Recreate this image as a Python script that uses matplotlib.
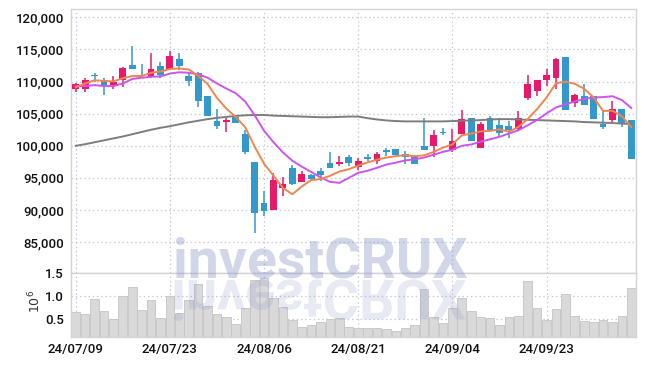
import numpy as np
import pandas as pd
import matplotlib
matplotlib.use("Agg")
import matplotlib.pyplot as plt
from matplotlib.textpath import TextPath
from matplotlib.patches import PathPatch
from matplotlib.font_manager import FontProperties
from matplotlib.transforms import Affine2D
from matplotlib.ticker import FuncFormatter, FixedLocator

dates = ["24/07/09", "24/07/10", "24/07/11", "24/07/12", "24/07/15", "24/07/16", "24/07/17", "24/07/18", "24/07/19", "24/07/22",
         "24/07/23", "24/07/24", "24/07/25", "24/07/26", "24/07/29", "24/07/30", "24/07/31", "24/08/01", "24/08/02", "24/08/05",
         "24/08/06", "24/08/07", "24/08/08", "24/08/09", "24/08/12", "24/08/13", "24/08/14", "24/08/16", "24/08/19", "24/08/20",
         "24/08/21", "24/08/22", "24/08/23", "24/08/26", "24/08/27", "24/08/28", "24/08/29", "24/08/30", "24/09/02", "24/09/03",
         "24/09/04", "24/09/05", "24/09/06", "24/09/09", "24/09/10", "24/09/11", "24/09/12", "24/09/13", "24/09/19", "24/09/20",
         "24/09/23", "24/09/24", "24/09/25", "24/09/26", "24/09/27", "24/09/30", "24/10/02", "24/10/04", "24/10/07", "24/10/08"]

opens = [108900, 108900, 111100, 110300, 109500, 110300, 112600, 111100, 110700, 112400,
         111900, 113500, 110900, 111300, 107700, 103900, 103700, 104500, 101800, 97500,
         91100, 90000, 93500, 96600, 94300, 95500, 96100, 97400, 97200, 98300,
         96700, 98300, 97700, 99400, 99500, 98800, 98400, 100000, 99900, 102200,
         99400, 101800, 104400, 99700, 104300, 103300, 103100, 102600, 107400, 108500,
         110300, 110500, 113800, 106600, 107800, 107700, 103400, 104000, 105800, 104000]
highs = [109800, 110500, 111300, 110500, 110800, 112200, 115500, 112700, 114400, 113000,
         114800, 114500, 111400, 111500, 107800, 105700, 104400, 104600, 102400, 97500,
         92900, 95700, 95200, 97000, 96100, 95600, 96500, 99000, 98400, 98500,
         98100, 98800, 99000, 99600, 99500, 99200, 98600, 104400, 102500, 102800,
         102600, 105500, 104400, 103700, 104700, 104400, 103800, 105400, 111000, 110300,
         111900, 113600, 113800, 108000, 109600, 107700, 105600, 106900, 105800, 104000]
lows = [108400, 108300, 110000, 107900, 108900, 109100, 112000, 110500, 110500, 110500,
        111800, 111800, 109300, 106000, 104600, 102600, 102200, 103600, 98800, 86400,
        89100, 90000, 92200, 93900, 94300, 94500, 94500, 96600, 96800, 96900,
        96200, 97600, 97200, 98400, 98600, 97200, 97100, 99400, 98300, 101700,
        99100, 101800, 100800, 99700, 102400, 101400, 101200, 102500, 107200, 107800,
        109300, 108800, 105500, 106100, 106400, 104200, 102600, 103700, 103000, 97900]
closes = [109600, 110300, 110900, 109400, 109900, 112100, 112000, 110900, 111900, 111000,
          114000, 112400, 110100, 107000, 104700, 103100, 104000, 103600, 99100, 89600,
          89800, 94700, 94100, 94100, 95600, 94800, 95500, 96600, 97500, 97400,
          97600, 98000, 98700, 99100, 98600, 98300, 97200, 99400, 101700, 102000,
          100800, 104200, 100800, 103400, 102400, 102000, 102400, 104400, 109600, 110200,
          111000, 113500, 105600, 107900, 106400, 104200, 103000, 105800, 103600, 97900]
volumes = [0.65, 0.61, 0.93, 0.67, 0.50, 1.00, 1.19, 0.70, 0.91, 0.52,
           1.00, 0.63, 0.91, 1.26, 0.78, 0.61, 0.54, 0.39, 0.73, 1.34,
           1.39, 0.96, 0.76, 0.48, 0.33, 0.37, 0.44, 0.50, 0.52, 0.32,
           0.30, 0.30, 0.30, 0.28, 0.24, 0.30, 0.36, 1.15, 0.54, 0.41,
           0.73, 0.95, 0.67, 0.54, 0.52, 0.36, 0.54, 0.56, 1.32, 0.73,
           0.49, 0.71, 1.04, 0.56, 0.46, 0.43, 0.47, 0.43, 0.56, 1.17]
# moving averages: leading values (window not yet full)
ma5_head = [109100, 109700, 110200, 110100]
ma10_head = [109300, 109300, 109450, 109300, 109300, 109700, 110400, 110600, 110750]
ma_long = [100000, 100250, 100550, 100850, 101150, 101450, 101800, 102150, 102500, 102800,
           103050, 103350, 103650, 103900, 104150, 104350, 104500, 104650, 104750, 104800,
           104800, 104700, 104650, 104600, 104550, 104500, 104450, 104450, 104500, 104550,
           104550, 104300, 104100, 103950, 103850, 103800, 103800, 103800, 103800, 103800,
           103850, 103900, 103950, 104000, 104100, 104150, 104150, 104100, 104050, 104000,
           103950, 103900, 103850, 103800, 103700, 103650, 103600, 103550, 103450, 103400]
price_ticks = [85000, 90000, 95000, 100000, 105000, 110000, 115000, 120000]
vol_ticks = [0.5, 1.0, 1.5]
xtick_idx = [0, 10, 20, 30, 40, 50]

UP = "#e8196b"
DOWN = "#3399cc"
GRID = "#c5c9dd"
SPINE = "#d4d4d4"
FONT = "Roboto"

cs = pd.Series(closes, dtype=float)
ma5 = cs.rolling(5).mean().to_numpy()
ma5[:len(ma5_head)] = ma5_head
ma10 = cs.rolling(10).mean().to_numpy()
ma10[:len(ma10_head)] = ma10_head

fig = plt.figure(figsize=(6.45, 3.66), dpi=100)
L, W = 71 / 645, 565 / 645
axp = fig.add_axes([L, (366 - 273) / 366, W, 263.7 / 366])
axv = fig.add_axes([L, (366 - 337) / 366, W, 64 / 366], sharex=axp)

x = np.arange(len(closes))
o = np.array(opens, float); c = np.array(closes, float)
h = np.array(highs, float); lo = np.array(lows, float)
colors = [UP if cc >= oo else DOWN for oo, cc in zip(o, c)]

for ax in (axp, axv):
    ax.set_axisbelow(True)
    ax.grid(True, color=GRID, linestyle=(0, (1.2, 2.2)), linewidth=0.9)
    for s in ax.spines.values():
        s.set_color(SPINE)
        s.set_linewidth(1.0)
    ax.tick_params(length=0, colors="#111111")

axp.vlines(x, lo, h, colors=colors, linewidth=1.1, zorder=2)
small = np.abs(c - o) < 150
body_h = np.where(small, 150, np.abs(c - o))
body_b = np.where(small, np.minimum(o, c) - 50, np.minimum(o, c))
axp.bar(x, body_h, bottom=body_b, width=0.72, color=colors, linewidth=0, zorder=3)

axp.plot(x, ma_long, color="#7d7d7d", linewidth=1.4, zorder=4)
axp.plot(x, ma10, color="#cc55ee", linewidth=1.4, zorder=5)
axp.plot(x, ma5, color="#f08550", linewidth=1.4, zorder=6)

axp.set_ylim(80200, 121250)
axp.set_xlim(-0.5, len(closes) - 0.5)
axp.yaxis.set_major_locator(FixedLocator(price_ticks))
axp.yaxis.set_major_formatter(FuncFormatter(lambda v, p: f"{int(v):,}"))
plt.setp(axp.get_xticklabels(), visible=False)

axv.bar(x, volumes, width=0.92, color="#d9d9d9", edgecolor="#c4c4c4", linewidth=0.6, zorder=2)
axv.set_ylim(0.11, 1.5)
axv.yaxis.set_major_locator(FixedLocator(vol_ticks))
axv.yaxis.set_major_formatter(FuncFormatter(lambda v, p: f"{v:.1f}"))
axv.xaxis.set_major_locator(FixedLocator(xtick_idx))
axv.xaxis.set_major_formatter(FuncFormatter(lambda v, p: dates[int(round(v))] if 0 <= int(round(v)) < len(dates) else ""))
axv.text(-0.064, 0.55, r"$10^{6}$", transform=axv.transAxes, rotation=90,
         ha="center", va="center", fontsize=9, color="#333333")

for ax in (axp, axv):
    for lab in ax.get_yticklabels() + ax.get_xticklabels():
        lab.set_fontfamily(FONT)
        lab.set_fontweight("medium")
        lab.set_fontsize(9.5)
    ax.tick_params(axis="y", pad=5)
    ax.tick_params(axis="x", pad=4)

# watermark with its mirrored reflection below the baseline
wm_col = "#8795c6"
fig.text(320 / 645, (366 - 278) / 366, "investCRUX", fontsize=40, fontweight="bold",
         family=FONT, color=wm_col, alpha=0.38, ha="center", va="baseline", zorder=10)
fp = FontProperties(family=FONT, weight="bold")
tp = TextPath((0, 0), "investCRUX", size=40 * 100 / 72, prop=fp)
ext = tp.get_extents()
tr = Affine2D().translate(-(ext.x0 + ext.x1) / 2, 0).scale(1, -1).translate(320, 366 - 280)
patch = PathPatch(tr.transform_path(tp), facecolor=wm_col, edgecolor="none", alpha=0.2,
                  transform=None, zorder=9)
fig.patches.append(patch)

fig.savefig("out.png", dpi=100)
